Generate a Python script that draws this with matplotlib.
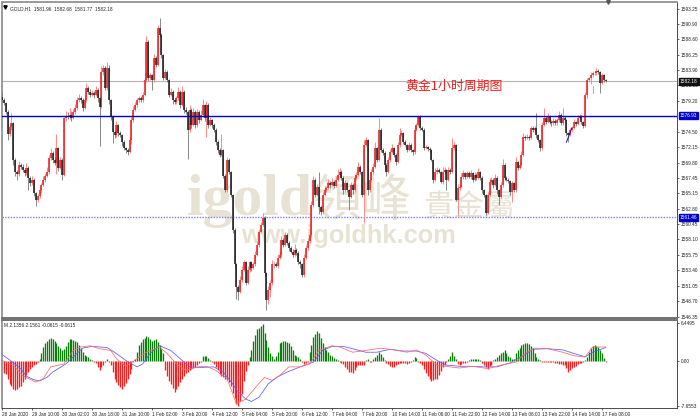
import matplotlib
matplotlib.use("Agg")
import matplotlib.pyplot as plt

plt.rcParams['font.family'] = ['Liberation Sans', 'DejaVu Sans']

# hourly closes, the open of a bar is the close before it
first_open = 1579.8
closes = [
    1579.3,1578.9,1577.5,1574.2,1575.2,1575.8,1570.2,1568.4,1568.1,1569.5,
    1569.2,1568.7,1568.2,1569.0,1567.5,1566.7,1567.2,1565.2,1564.1,1564.7,
    1565.6,1566.4,1567.2,1567.8,1568.4,1570.5,1571.3,1570.2,1569.8,1572.0,
    1569.0,1570.2,1567.9,1576.6,1576.9,1576.8,1577.1,1576.6,1577.5,1578.1,
    1579.3,1579.6,1579.3,1578.1,1579.3,1581.2,1580.6,1580.1,1580.4,1580.1,
    1580.9,1579.6,1578.3,1583.6,1584.2,1581.2,1584.2,1579.3,1576.8,1574.5,
    1574.0,1575.5,1574.3,1574.0,1572.9,1572.0,1571.7,1571.4,1573.2,1576.3,
    1577.8,1578.6,1579.3,1579.6,1579.3,1580.1,1582.4,1588.2,1582.7,1583.1,
    1582.4,1585.7,1584.7,1590.3,1589.2,1586.2,1582.7,1583.6,1582.4,1580.1,
    1580.6,1579.3,1579.0,1579.6,1580.6,1578.6,1580.6,1577.8,1577.5,1574.8,
    1577.8,1575.5,1577.5,1575.5,1577.5,1576.3,1577.1,1578.6,1576.6,1578.6,
    1575.5,1576.3,1575.5,1574.8,1572.9,1571.7,1571.0,1571.7,1567.8,1565.6,
    1570.2,1568.4,1564.9,1559.6,1554.3,1550.8,1550.1,1552.0,1553.5,1554.7,
    1551.5,1553.5,1554.6,1553.8,1554.3,1555.8,1557.3,1559.3,1560.3,1561.4,
    1553.0,1548.9,1550.4,1551.5,1554.3,1554.3,1554.1,1555.3,1555.8,1558.0,
    1557.3,1558.8,1557.6,1556.8,1556.2,1555.8,1556.5,1556.1,1554.7,1554.3,
    1552.7,1555.3,1556.8,1557.8,1558.8,1563.4,1567.2,1564.9,1566.1,1563.1,
    1562.3,1564.9,1565.6,1566.0,1566.7,1566.4,1566.9,1566.3,1567.2,1567.9,
    1568.4,1567.5,1565.6,1566.7,1565.6,1564.6,1566.4,1565.6,1567.5,1567.9,
    1569.2,1568.4,1564.9,1572.5,1573.2,1565.6,1567.2,1568.4,1569.2,1572.0,
    1570.2,1574.8,1571.7,1571.3,1569.5,1568.4,1570.2,1571.4,1572.0,1571.0,
    1569.9,1572.5,1574.0,1574.3,1572.9,1572.5,1571.7,1572.5,1571.7,1571.4,
    1574.8,1575.5,1576.8,1575.1,1574.8,1572.0,1572.2,1571.9,1571.7,1570.2,
    1567.2,1568.4,1568.7,1568.4,1566.9,1568.4,1568.7,1567.2,1568.7,1568.4,
    1572.0,1572.5,1564.1,1566.0,1566.1,1567.6,1568.2,1567.6,1568.2,1567.6,
    1568.2,1567.2,1567.9,1567.5,1568.4,1567.5,1565.6,1564.9,1562.2,1564.9,
    1566.9,1567.2,1566.4,1567.5,1565.6,1564.6,1566.4,1569.5,1567.5,1567.2,
    1567.0,1565.3,1566.7,1565.6,1569.9,1569.0,1569.5,1571.0,1573.7,1573.6,
    1573.7,1573.6,1575.1,1574.8,1575.1,1574.0,1573.2,1572.0,1575.5,1576.6,
    1576.0,1576.8,1576.0,1575.8,1576.2,1575.8,1576.3,1577.1,1575.8,1576.6,
    1576.3,1574.3,1574.0,1574.8,1575.1,1576.0,1575.7,1576.6,1576.8,1576.0,
    1575.4,1580.1,1582.4,1582.7,1583.1,1583.4,1583.4,1583.7,1583.6,1581.9,
    1583.1,1582.4,1582.18,
]
upper_wicks = [
    .8,.3,.2,.3,.4,1.5,.2,.3,.3,.5, .3,.4,.2,.7,.3,.3,.5,.3,.2,.4,
    .5,.3,.6,.4,.8,.5,.7,.3,.4,2.2, .2,.5,.3,.2,.8,.6,1.0,.5,.4,.6,
    .5,.7,.4,.3,.6,.7,.3,.4,.5,.3, .6,.3,.2,.9,.5,.3,.9,.4,.2,.3,
    .3,.6,.2,.3,.2,.4,.2,.3,.5,.4, .6,.5,.3,.4,.3,.5,1.2,.8,.2,.4,
    .2,.7,.4,.5,1.5,.3,.2,.5,.3,.2, .6,.3,.4,.3,.7,.2,.9,.3,.4,.3,
    .8,.3,.6,.3,.5,.3,.7,.9,.2,.6, .3,.5,.2,.3,.2,.3,.4,2.5,.2,.2,
    .5,.3,.2,.2,.2,.2,.4,.5,.6,.3, .2,.5,.3,.2,.4,.5,.6,.3,.4,.8,
    .2,.2,.6,.5,.7,.4,.3,.6,.5,.7, .3,.5,.3,.2,.3,.4,.9,.3,.2,.3,
    .2,.6,.5,.6,.7,.6,.5,.3,.4,2.2, .2,.5,.7,.3,.6,.3,.5,.2,.5,.9,
    .6,.3,.2,.4,.2,.2,.5,.3,.6,.5, .7,.3,.2,.7,.5,.2,.4,.5,.6,1.0,
    .2,1.8,.2,.3,.2,.2,.4,.5,.6,.2, .2,.5,1.0,.5,.2,.3,.2,.5,.3,.2,
    .7,.4,.3,.2,.3,.2,.3,.2,.3,.2, .2,.6,.5,.3,.2,.7,.4,.2,.5,.3,
    1.6,.4,.2,.5,.4,.6,.5,.2,.4,.3, .5,.2,.4,.3,.6,.2,.2,.2,.2,.5,
    .6,.4,.2,.5,.2,.2,.5,.8,.2,.3, .2,.2,.3,.2,.7,.2,.4,.5,.6,.3,
    .4,.3,.3,.2,.3,2.3,.2,.2,.5,1.5, .3,.5,.2,.3,.4,.2,.3,.5,.2,1.5,
    .3,.2,.2,.3,.3,.5,.2,.4,.4,.2, .2,.4,.3,.2,.5,.4,.3,.5,.3,.2,
    .4,.2,.1,
]
lower_wicks = [
    .3,.3,.3,.9,.4,.5,.8,.6,1.0,.3, .4,.3,.5,.3,1.8,.4,.3,.5,.9,.3,
    .3,.4,.2,.3,.2,.4,.3,.5,.4,1.8, .5,.2,.7,.2,.4,.3,.4,.5,.2,.3,
    .3,.2,.4,.5,.2,.3,.4,.3,.2,.4, .2,.5,5.9,.2,.4,.3,.3,.6,.5,1.7,
    .4,.3,.5,.3,.5,.3,.4,.5,.2,.6, .3,.2,.4,.3,.2,.3,.2,.3,.4,.3,
    1.5,.3,.4,.2,.3,.4,.3,.2,.4,.3, .2,.5,.3,.2,.3,.5,.2,.4,.3,4.5,
    .3,.5,.2,.4,.3,.5,.2,.3,.4,2.9, .4,.2,.5,.3,.4,.5,.3,.2,.3,.3,
    .2,.3,.4,.5,.4,1.8,1.2,.2,.3,.2, .4,.2,.3,.5,.2,.3,.2,.3,.2,.2,
    .4,1.5,.6,1.0,.3,.5,.2,.3,.2,.3, .4,.2,.3,.4,.2,.3,.2,.3,.4,.5,
    .3,.3,.2,.3,.2,.3,.3,.4,.2,1.1, .4,.3,.2,.3,.2,.4,.2,.3,.2,.2,
    .2,.4,.5,.2,.3,2.0,.2,.5,.2,.3, .2,.4,.3,4.3,.2,.7,.3,.2,.3,.2,
    .3,.2,.3,.4,.6,.6,.2,.3,.2,.3, .5,.2,.3,.2,.3,.2,.3,.2,.3,.5,
    .3,.2,.2,.4,.2,.3,.2,.3,.4,.2, .5,.2,.3,.2,.2,.3,.2,1.5,.2,.4,
    .2,.3,.2,2.3,.3,.2,.3,.3,.2,.2, .3,.4,.2,.3,.2,.3,.4,.3,.3,.2,
    .2,.3,.4,.2,.5,1.2,.2,.3,.4,.2, .3,.4,1.5,.3,.2,.3,.2,.3,.2,.3,
    .2,.3,.2,.3,.2,.4,.3,.4,.3,.2, .3,.2,.3,.4,.2,.3,.2,.3,.3,.2,
    .2,.5,1.0,.2,.3,.2,.3,.2,.2,.3, .3,.2,.4,.3,1.0,.2,.3,.2,.3,1.5,
    .2,.3,.1,
]

macd_hist = [
    -1.9,-2.0,-2.2,-3.0,-3.9,-4.3,-4.7,-4.9,-4.7,-4.4,
    -4.2,-3.6,-3.0,-2.4,-1.9,-1.3,-1.0,-0.7,-0.5,-0.2,
    0.4,1.4,2.4,3.0,3.5,3.8,3.9,3.8,3.4,3.0,
    2.6,2.2,1.8,2.0,2.6,3.2,3.7,3.7,3.6,3.5,
    3.2,2.8,2.2,1.6,1.1,0.8,0.6,0.4,0.2,-0.1,
    -0.4,-1.0,-1.6,-1.1,-0.7,-0.1,0.4,-0.2,-0.6,-1.8,
    -3.0,-3.6,-4.1,-4.5,-4.7,-4.3,-3.8,-3.0,-2.2,-1.3,
    -0.2,0.4,1.6,2.7,3.2,3.7,4.0,4.3,4.1,3.8,
    3.5,3.6,3.8,3.3,2.7,2.0,1.3,-1.6,-2.6,-3.4,
    -3.9,-4.6,-5.3,-4.8,-4.2,-3.6,-3.1,-2.5,-2.1,-1.8,
    -1.6,-1.4,-1.2,-1.0,-0.7,-0.3,-0.2,0.9,0.9,0.9,
    0.5,0.2,-0.1,-0.5,-1.0,-1.6,-2.2,-2.5,-2.8,-3.1,
    -3.3,-3.6,-4.3,-5.5,-6.3,-7.3,-7.7,-6.9,-5.7,-3.4,
    -1.7,-0.7,0.6,1.9,3.5,4.5,5.4,5.7,6.0,6.3,
    4.8,3.6,2.4,1.3,0.8,0.4,0.9,1.5,3.0,3.2,
    3.4,3.5,3.3,3.0,2.5,1.8,1.1,0.8,0.6,0.4,
    -0.2,-0.5,-0.3,-0.1,1.5,2.8,4.1,4.6,5.1,4.7,
    3.9,3.0,2.4,1.9,1.5,1.1,0.8,0.5,0.3,0.1,
    -0.2,-0.3,-0.5,-1.0,-1.4,-1.8,-1.9,-2.0,-1.5,-1.1,
    -0.7,-0.6,-0.6,-0.6,0.2,0.4,-0.2,-0.1,0.3,0.7,
    1.1,1.5,1.2,0.7,0.2,-0.3,-0.5,-0.8,-1.1,-1.0,
    -0.7,-0.5,-0.4,-0.3,-0.3,-0.4,-0.5,-0.4,-0.2,0.1,
    0.6,0.5,-0.1,-0.4,-0.7,-1.3,-2.0,-2.5,-3.0,-3.4,
    -3.3,-3.1,-3.0,-2.4,-1.7,-1.1,-0.6,-0.2,0.4,0.9,
    1.5,0.8,0.4,-0.5,-0.7,-0.5,-0.3,-0.3,-0.1,0.2,
    0.3,0.3,0.3,0.4,0.4,0.2,-0.3,-0.6,-1.0,-1.3,
    -0.9,-0.6,0.1,0.3,0.6,1.1,1.4,1.6,1.8,1.3,
    0.9,0.6,0.4,0.3,1.3,1.8,2.3,2.7,2.9,3.0,
    3.1,2.9,2.6,2.2,1.4,0.7,0.3,0.1,-0.1,-0.1,
    -0.1,-0.1,-0.1,-0.2,-0.2,-0.3,-0.4,-0.5,-0.5,-0.6,
    -0.7,-1.2,-1.8,-1.5,-1.2,-1.0,-0.8,-0.5,-0.4,-0.3,
    -0.2,0.2,0.7,1.5,2.2,2.6,2.8,2.6,2.4,1.9,
    1.3,0.5,-0.1,
]

blue_bars = [0,4,10,13,17,20,24,27,34,40,43,48,56,60,66,72,75,79,84,90,95,100,106,113,118,
             123,125,130,133,137,142,147,152,159,166,171,176,182,187,194,200,207,214,221,226,232,
             237,244,250,257,264,271,278,283,291,299,305,311,315,322]
blue_vals = [1.1,0.2,-1.3,-2.6,-3.2,-3.4,-2.8,-1.9,-0.5,1.3,2.2,2.5,2.3,1.5,0.1,-1.0,-0.5,1.3,2.6,1.8,0.4,-1.0,-1.1,-1.0,-1.9,
             -3.9,-4.9,-6.5,-6.9,-6.2,-3.9,-2.7,-1.9,-1.0,-0.2,1.8,2.5,2.5,2.1,1.5,1.5,2.0,1.7,1.7,1.3,0.1,
             -0.7,-0.9,-0.9,-1.0,-1.0,-0.3,0.9,2.0,2.1,1.9,1.3,0.7,1.5,2.3]
red_bars = [0,6,11,18,22,26,33,38,42,47,52,58,61,66,72,77,84,88,93,98,104,109,114,120,
            125,130,136,140,144,148,153,159,164,169,176,180,187,194,202,209,216,221,226,232,
            239,244,251,259,266,274,279,284,291,299,305,311,315,322]
red_vals = [0.1,-0.7,-2.5,-3.6,-3.0,-1.0,-0.5,1.8,2.4,2.6,2.1,1.8,0.4,-0.9,0.4,1.5,2.4,1.3,-0.5,-1.6,-1.0,-0.9,-1.6,-3.0,
            -7.3,-6.5,-4.2,-2.8,-3.3,-2.5,-1.0,-1.0,-0.5,1.8,2.6,2.4,1.5,1.8,2.2,1.9,1.5,1.9,1.0,-0.7,
            -1.0,-1.2,-0.9,-1.3,-0.7,-0.2,1.3,2.2,2.1,1.5,0.9,0.7,2.4,2.4]

# short marks drawn over the candles near the end
blue_mark_bars = [301, 304]
blue_mark_prices = [1572.9, 1575.1]
green_mark_bars = [315, 315]
green_mark_prices = [1580.4, 1581.4]

price_ticks = [1593.25,1590.90,1588.60,1586.25,1583.90,1581.55,1579.20,1574.50,1572.15,1569.80,
               1567.45,1565.15,1562.80,1560.45,1558.10,1555.75,1553.40,1551.05,1548.70,1546.35]
macd_ticks = [6.4495, 0.0, -7.6553]
macd_tick_labels = ["6.4495", "0.00", "-7.6553"]
time_bars = [0,16,32,48,64,80,96,112,128,144,160,176,192,208,224,240,256,272,288,304,320]
time_labels = ["28 Jan 2020","29 Jan 10:00","30 Jan 02:00","30 Jan 18:00","31 Jan 10:00","1 Feb 02:00",
               "3 Feb 20:00","4 Feb 12:00","5 Feb 04:00","5 Feb 20:00","6 Feb 12:00","7 Feb 04:00",
               "7 Feb 20:00","10 Feb 14:00","11 Feb 06:00","11 Feb 22:00","12 Feb 14:00","13 Feb 06:00",
               "13 Feb 22:00","14 Feb 14:00","17 Feb 08:00"]

last_price = 1582.18
blue_level = 1576.93
dotted_level = 1561.46

W, H = 700, 420
TINY = 3.4


def px_axes(fig, left, top, right, bottom):
    return fig.add_axes([left / W, 1 - bottom / H, (right - left) / W, (bottom - top) / H])


def level_tag(ax, y, text, bg):
    ax.text(1.004, y, text, transform=ax.get_yaxis_transform(), fontsize=TINY, color="white",
            va="center", ha="left", zorder=6,
            bbox=dict(facecolor=bg, edgecolor=bg, pad=0.8))


fig = plt.figure(figsize=(W / 100, H / 100), dpi=100)
ax = px_axes(fig, 2, 2, 677, 318)
sub = px_axes(fig, 2, 320, 677, 408)

bars = list(range(len(closes)))
opens = [first_open] + closes[:-1]
up_bars = [i for i in bars if closes[i] >= opens[i]]
down_bars = [i for i in bars if closes[i] < opens[i]]

for group, body_col, wick_col in [(up_bars, "#f01818", "#ff8080"), (down_bars, "#181818", "#808080")]:
    tops = [max(opens[i], closes[i]) for i in group]
    bots = [min(opens[i], closes[i]) for i in group]
    ax.vlines(group, [b - lower_wicks[i] for b, i in zip(bots, group)],
              [t + upper_wicks[i] for t, i in zip(tops, group)], color=wick_col, lw=0.65, zorder=3)
    ax.vlines(group, bots, tops, color=body_col, lw=1.1, zorder=4)

ax.plot(blue_mark_bars, blue_mark_prices, color="#1010e0", lw=0.7, zorder=5)
ax.plot(green_mark_bars, green_mark_prices, color="#60e060", lw=0.7, zorder=5)

ax.set_xlim(0, 360)
ax.set_ylim(1546.15, 1594.25)
ax.axhline(last_price, color="#b4b4b4", lw=0.8, zorder=2)
ax.axhline(blue_level, color="#0000c8", lw=1.0, zorder=5)
ax.axhline(dotted_level, color="#7f7ff0", lw=1.0, ls=(0, (1, 1)), zorder=2)

# watermark sits behind the candles
wm = "#e7e2d2"
ax.text(0.273, 0.325, "igold", transform=ax.transAxes, family="Liberation Serif", weight="bold",
        fontsize=43, color=wm, zorder=1, va="baseline", ha="left")
ax.text(0.458, 0.322, "領峰", transform=ax.transAxes, family=["Noto Sans CJK TC", "DejaVu Sans"],
        fontsize=36, color=wm, zorder=1, va="baseline", ha="left")
ax.text(0.624, 0.322, "貴金屬", transform=ax.transAxes, family=["Noto Sans CJK TC", "DejaVu Sans"],
        fontsize=22, color=wm, zorder=1, va="baseline", ha="left")
ax.text(0.354, 0.238, "www.igoldhk.com", transform=ax.transAxes, family="Liberation Sans", weight="bold",
        fontsize=18.3, color=wm, zorder=1, va="baseline", ha="left")

ax.text(0.598, 0.734, "黄金1小时周期图", transform=ax.transAxes, color="#f02020", fontsize=9.3,
        family=["Noto Sans CJK SC", "DejaVu Sans"], va="center", ha="left", zorder=6)
ax.text(0.012, 0.985, "GOLD,H1  1581.96  1582.68  1581.77  1582.18", transform=ax.transAxes,
        fontsize=TINY, color="#222222", va="top", ha="left", zorder=6)
ax.plot([0.0045], [0.985], marker="v", ms=2.4, color="black", transform=ax.transAxes, zorder=6)
ax.plot([0.8975], [0.999], marker="v", ms=2.6, color="#555555", transform=ax.transAxes,
        zorder=6, clip_on=False)

ax.set_xticks([])
ax.yaxis.tick_right()
ax.set_yticks(price_ticks)
ax.set_yticklabels([f"{t:.2f}" for t in price_ticks])
ax.tick_params(axis="y", labelsize=TINY, length=1.5, width=0.5, pad=1, colors="#222222")

level_tag(ax, last_price, "1582.18", "#101010")
level_tag(ax, blue_level, "1576.93", "#0000c8")
level_tag(ax, dotted_level, "1561.46", "#0000c8")

# macd panel
hist_cols = ["#0a7f0a" if v >= 0 else "#ff1c1c" for v in macd_hist]
sub.vlines(bars, 0, macd_hist, colors=hist_cols, lw=0.95, zorder=2)
sub.plot(blue_bars, blue_vals, color="#5a5aff", lw=0.55, zorder=3)
sub.plot(red_bars, red_vals, color="#ff6a6a", lw=0.55, zorder=3)
sub.set_xlim(0, 360)
sub.set_ylim(-8.02, 7.0)
sub.text(0.003, 0.965, "M 2.1356 2.1561 -0.0615 -0.0615", transform=sub.transAxes,
         fontsize=TINY, color="#222222", va="top", ha="left")
sub.yaxis.tick_right()
sub.set_yticks(macd_ticks)
sub.set_yticklabels(macd_tick_labels)
sub.tick_params(axis="y", labelsize=TINY, length=1.5, width=0.5, pad=1, colors="#222222")
sub.set_xticks(time_bars)
sub.set_xticklabels(time_labels, ha="left")
sub.tick_params(axis="x", labelsize=TINY, length=1.5, width=0.5, pad=1.2, colors="#222222")

for a in (ax, sub):
    for side in a.spines:
        a.spines[side].set_linewidth(0.6)
        a.spines[side].set_color("#303030")
ax.spines["top"].set_color("#9a9a9a")
ax.spines["top"].set_linewidth(1.4)
ax.spines["left"].set_color("#9a9a9a")
ax.spines["left"].set_linewidth(1.4)
ax.spines["bottom"].set_color("#707070")
ax.spines["bottom"].set_linewidth(1.4)
sub.spines["top"].set_color("#707070")
sub.spines["top"].set_linewidth(1.4)
sub.spines["left"].set_color("#9a9a9a")
sub.spines["left"].set_linewidth(1.4)

fig.savefig("out.png", dpi=100)
